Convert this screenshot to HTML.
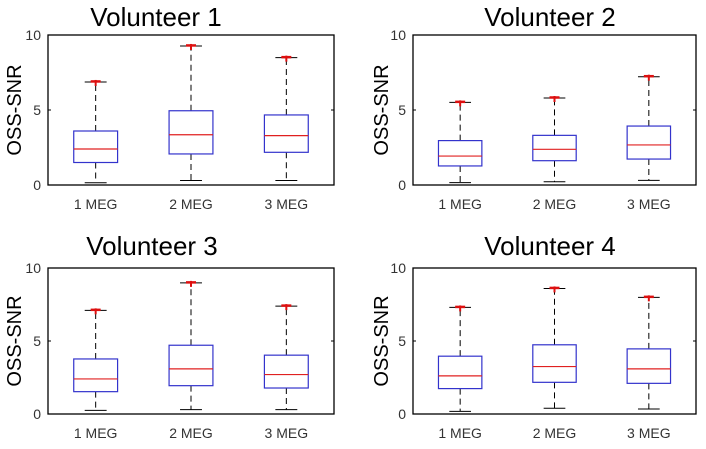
<!DOCTYPE html>
<html><head><meta charset="utf-8"><style>
html,body{margin:0;padding:0;background:#fff;}
svg{display:block;font-family:"Liberation Sans",Arial,sans-serif;}
</style></head><body>
<svg id="fig" width="706" height="449" viewBox="0 0 706 449"></svg>
<script>
const categories = ["1 MEG","2 MEG","3 MEG"];
const titles = ["Volunteer 1","Volunteer 2","Volunteer 3","Volunteer 4"];
const yTicks = [0,5,10];
// per panel: [low whisker, q1, median, q3, high whisker] for each category
const v1Low=[0.15,0.3,0.3], v1Q1=[1.5,2.07,2.18], v1Med=[2.4,3.35,3.29], v1Q3=[3.6,4.95,4.67], v1High=[6.87,9.27,8.49];
const v2Low=[0.16,0.22,0.31], v2Q1=[1.27,1.62,1.73], v2Med=[1.93,2.38,2.67], v2Q3=[2.96,3.31,3.93], v2High=[5.51,5.8,7.22];
const v3Low=[0.25,0.3,0.3], v3Q1=[1.53,1.94,1.78], v3Med=[2.4,3.09,2.7], v3Q3=[3.77,4.71,4.03], v3High=[7.1,8.98,7.39];
const v4Low=[0.18,0.39,0.34], v4Q1=[1.74,2.17,2.1], v4Med=[2.61,3.25,3.09], v4Q3=[3.96,4.74,4.46], v4High=[7.3,8.6,7.99];
const panelData=[[v1Low,v1Q1,v1Med,v1Q3,v1High],[v2Low,v2Q1,v2Med,v2Q3,v2High],[v3Low,v3Q1,v3Med,v3Q3,v3High],[v4Low,v4Q1,v4Med,v4Q3,v4High]];

const layout=[
 {x0:48,x1:334,y0:35,y1:185,tx:156,ty:26,lx:14},
 {x0:413,x1:696,y0:35,y1:185,tx:550,ty:26,lx:381},
 {x0:48,x1:334,y0:268,y1:414,tx:152,ty:255,lx:14},
 {x0:413,x1:696,y0:268,y1:414,tx:550,ty:255,lx:381}
];
const svg=document.getElementById('fig');
const NS="http://www.w3.org/2000/svg";
function mk(tag,attrs,parent){const e=document.createElementNS(NS,tag);for(const k in attrs)e.setAttribute(k,attrs[k]);(parent||svg).appendChild(e);return e;}

layout.forEach((L,p)=>{
  const g=mk('g',{});
  
  
  const xs=v=>L.x0+(v-0.5)/3*(L.x1-L.x0);
  const ys=v=>L.y1-v/10*(L.y1-L.y0);
  const unit=(L.x1-L.x0)/3;
  const t=mk('text',{x:L.tx,y:L.ty,'text-anchor':'middle','font-size':26,fill:'#000'},g);
  t.textContent=titles[p];
  
  
  const fr=mk('rect',{x:L.x0,y:L.y0,width:L.x1-L.x0,height:L.y1-L.y0,fill:'none',stroke:'#000','stroke-width':1.3},g);
  
  
  yTicks.forEach(v=>{
    const tl=mk('text',{x:L.x0-7,y:ys(v)+5,'text-anchor':'end','font-size':14,fill:'#333'},g);
    tl.textContent=v;
    
    
    mk('line',{x1:L.x0,x2:L.x0+3,y1:ys(v),y2:ys(v),stroke:'#000'},g);
    mk('line',{x1:L.x1,x2:L.x1-3,y1:ys(v),y2:ys(v),stroke:'#000'},g);
  });
  const yl=mk('text',{x:L.lx,y:(L.y0+L.y1)/2,'text-anchor':'middle','font-size':20,fill:'#000',transform:`rotate(-90 ${L.lx} ${(L.y0+L.y1)/2}) translate(0 7)`},g);
  yl.textContent='OSS-SNR';
  
  
  const [lo,q1,md,q3,hi]=panelData[p];
  categories.forEach((c,i)=>{
    const cx=xs(i+1), bw=unit*0.46, cw=unit*0.23;
    const xl=mk('text',{x:cx,y:L.y1+24,'text-anchor':'middle','font-size':14,fill:'#333'},g);
    xl.textContent=c;
    
    
    const bg=mk('g',{},g);
    
    
    mk('line',{x1:cx,x2:cx,y1:ys(q3[i]),y2:ys(hi[i]),stroke:'#000','stroke-dasharray':'6,4'},bg);
    mk('line',{x1:cx,x2:cx,y1:ys(q1[i]),y2:ys(lo[i]),stroke:'#000','stroke-dasharray':'6,4'},bg);
    mk('line',{x1:cx-cw/2,x2:cx+cw/2,y1:ys(hi[i]),y2:ys(hi[i]),stroke:'#000'},bg);
    mk('line',{x1:cx-cw/2,x2:cx+cw/2,y1:ys(lo[i]),y2:ys(lo[i]),stroke:'#000'},bg);
    mk('rect',{x:cx-bw/2,y:ys(q3[i]),width:bw,height:ys(q1[i])-ys(q3[i]),fill:'none',stroke:'#3333cc','stroke-width':1.2},bg);
    mk('line',{x1:cx-bw/2,x2:cx+bw/2,y1:ys(md[i]),y2:ys(md[i]),stroke:'#e02020','stroke-width':1.2},bg);
    const o=mk('g',{},bg);
    
    
    mk('line',{x1:cx-5,x2:cx+5,y1:ys(hi[i])-0.5,y2:ys(hi[i])-0.5,stroke:'#dd1010','stroke-width':2.5},o);
    mk('line',{x1:cx,x2:cx,y1:ys(hi[i])-2,y2:ys(hi[i])+4,stroke:'#dd1010','stroke-width':2},o);
  });
});
</script>
</body></html>
